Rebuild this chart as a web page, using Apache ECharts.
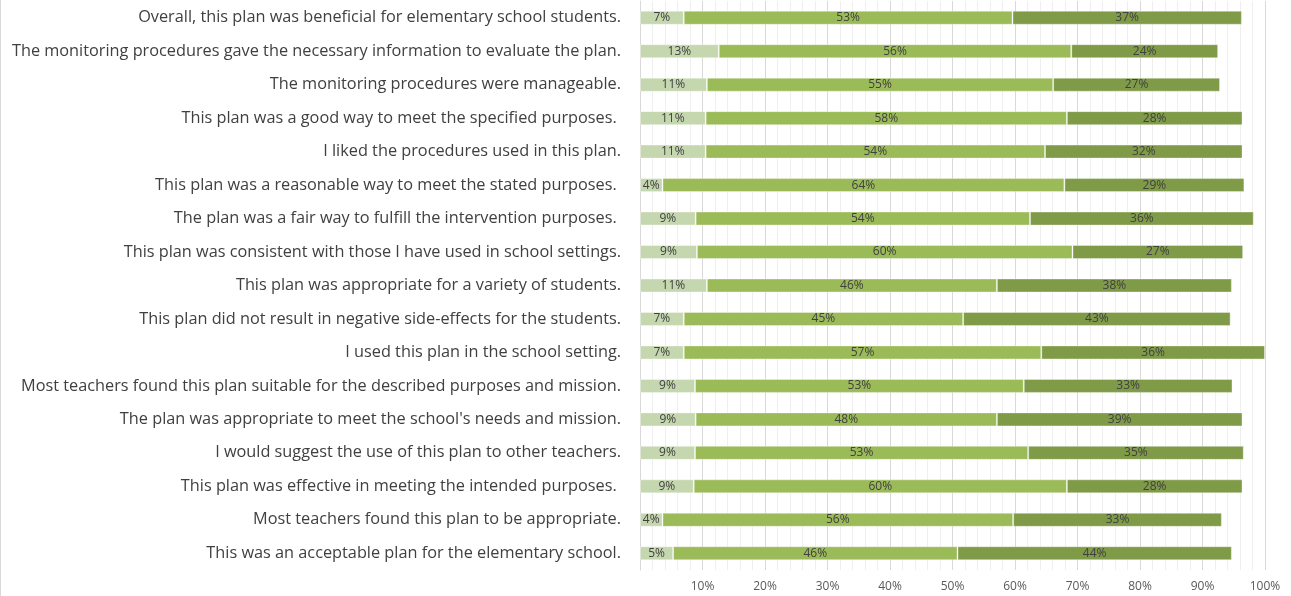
<!DOCTYPE html>
<html>
<head>
<meta charset="UTF-8">
<title>Plan ratings</title>
<script src="https://cdn.jsdelivr.net/npm/echarts@6/dist/echarts.min.js"></script>
<style>
  html, body { margin: 0; padding: 0; background: #fff; }
  #main { width: 1291px; height: 596px; box-sizing: border-box; border-left: 1px solid #d9d9d9; }
</style>
</head>
<body>
<div id="main"></div>
<script type="text/javascript">
  // rows, listed top to bottom (some source labels carry a trailing space)
  var statements = [
    'Overall, this plan was beneficial for elementary school students.',
    'The monitoring procedures gave the necessary information to evaluate the plan.',
    'The monitoring procedures were manageable.',
    'This plan was a good way to meet the specified purposes. ',
    'I liked the procedures used in this plan.',
    'This plan was a reasonable way to meet the stated purposes. ',
    'The plan was a fair way to fulfill the intervention purposes. ',
    'This plan was consistent with those I have used in school settings.',
    'This plan was appropriate for a variety of students.',
    'This plan did not result in negative side-effects for the students.',
    'I used this plan in the school setting.',
    'Most teachers found this plan suitable for the described purposes and mission.',
    "The plan was appropriate to meet the school's needs and mission.",
    'I would suggest the use of this plan to other teachers.',
    'This plan was effective in meeting the intended purposes. ',
    'Most teachers found this plan to be appropriate.',
    'This was an acceptable plan for the elementary school.'
  ];

  var lowPart  = [7.0, 12.6, 10.7, 10.5, 10.5, 3.6, 8.9, 9.1, 10.7, 7.0, 7.0, 8.8, 8.9, 8.8, 8.6, 3.6, 5.3];
  var midPart  = [52.6, 56.4, 55.4, 57.8, 54.3, 64.3, 53.5, 60.1, 46.4, 44.7, 57.2, 52.6, 48.2, 53.3, 59.7, 56.1, 45.5];
  var highPart = [36.7, 23.5, 26.7, 28.1, 31.6, 28.8, 35.8, 27.3, 37.6, 42.8, 35.8, 33.4, 39.3, 34.5, 28.1, 33.4, 43.9];

  var colors = ['#c5d7ae', '#9bbb59', '#7f9b48'];

  function makeSeries(name, data, color) {
    return {
      name: name,
      type: 'bar',
      stack: 'total',
      barWidth: 14,
      itemStyle: { color: color, borderColor: 'rgba(255,255,255,0.35)', borderWidth: 1 },
      label: {
        show: true,
        position: 'inside',
        color: '#404040',
        fontFamily: 'Open Sans',
        fontSize: 12,
        formatter: function (p) { return Math.round(p.value) + '%'; }
      },
      data: data
    };
  }

  var myChart = echarts.init(document.getElementById('main'));
  var option = {
    animation: false,
    grid: { left: 639, right: 26, top: 1, bottom: 26 },
    xAxis: {
      type: 'value',
      min: 0,
      max: 100,
      interval: 10,
      axisLine: { show: false },
      axisTick: { show: false },
      axisLabel: {
        showMinLabel: false,
        color: '#595959',
        fontFamily: 'Open Sans',
        fontSize: 12,
        margin: 11,
        formatter: '{value}%'
      },
      splitLine: { show: true, lineStyle: { color: '#d9d9d9', width: 1 } },
      minorTick: { show: false, splitNumber: 5 },
      minorSplitLine: { show: true, lineStyle: { color: '#efefef', width: 1 } }
    },
    yAxis: {
      type: 'category',
      inverse: true,
      data: statements,
      axisLine: { show: true, lineStyle: { color: '#d9d9d9' } },
      axisTick: { show: false },
      axisLabel: {
        color: '#404040',
        fontFamily: 'Open Sans',
        fontSize: 16.3,
        margin: 19
      }
    },
    series: [
      makeSeries('Low', lowPart, colors[0]),
      makeSeries('Mid', midPart, colors[1]),
      makeSeries('High', highPart, colors[2])
    ]
  };
  myChart.setOption(option);
</script>
</body>
</html>
